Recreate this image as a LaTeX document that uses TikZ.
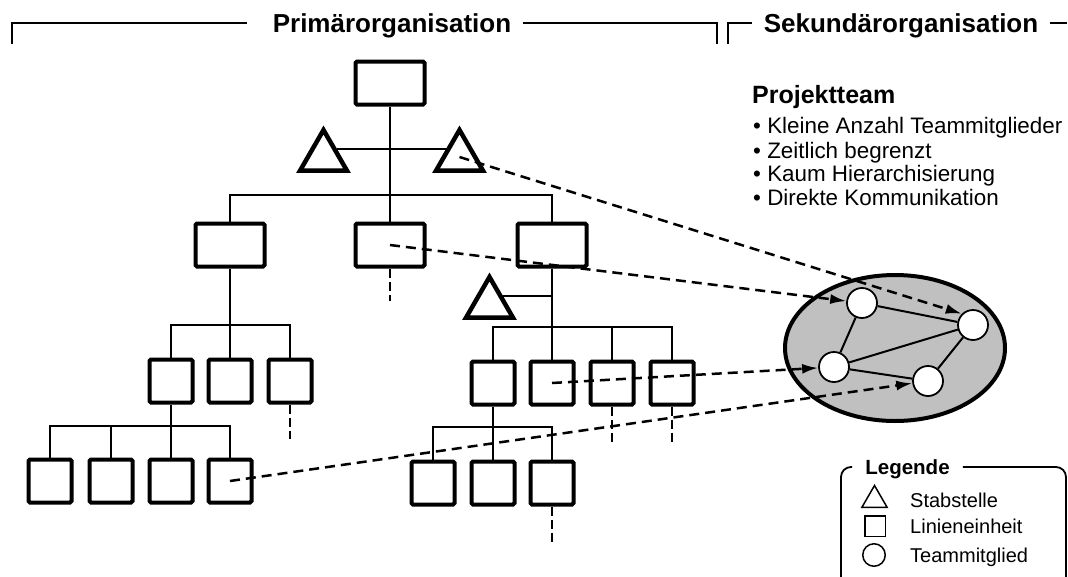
\documentclass[tikz,border=0pt]{standalone}
\usepackage{fontspec}
\setmainfont{Liberation Sans}
\usetikzlibrary{shapes.geometric,arrows.meta}
\definecolor{teamgray}{RGB}{192,192,192}

\begin{document}
\begin{tikzpicture}[x=1pt,y=-1pt,
        unit/.style={draw,line width=4pt,rounded corners=1.5pt,minimum width=69pt,minimum height=43pt,inner sep=0pt},
        subunit/.style={unit,minimum width=43pt,minimum height=43pt},
        staff/.style={draw,line width=4.5pt,regular polygon,regular polygon sides=3,minimum size=54pt,inner sep=0pt},
        member/.style={draw,circle,fill=white,line width=1.8pt,minimum size=30pt,inner sep=0pt},
        team/.style={draw,ellipse,fill=teamgray,line width=4pt,minimum width=220pt,minimum height=146pt,inner sep=0pt},
        link/.style={line width=2pt},
        stub/.style={line width=2.5pt,dash pattern=on 9pt off 4pt},
        assign/.style={line width=2.5pt,dash pattern=on 10pt off 6pt,-{Latex[length=16pt,width=10pt]}},
        rule/.style={line width=1.8pt},
        headline/.style={font=\bfseries\fontsize{26}{30}\selectfont,text height=18.6pt,text depth=0pt,inner ysep=0pt,inner xsep=12pt},
        item/.style={anchor=base west,inner sep=0pt,font=\fontsize{22.4}{26}\selectfont},
        legtext/.style={anchor=base west,inner sep=0pt,font=\fontsize{20}{24}\selectfont}]
    \useasboundingbox (0,0) rectangle (1068,576);

    % headings
    \node[headline] (prim) at (392,23) {Primärorganisation};
    \node[headline] (sek) at (901,23) {Sekundärorganisation};
    \draw[rule] ([xshift=-14pt]prim.west) -| (12,44);
    \draw[rule] (prim.east) -| (717,44);
    \draw[rule] (sek.west) -| (728,44);
    \draw[rule] (sek.east) -- ++(17,0);

    % line organisation
    \node[unit] (top) at (390,83) {};
    \node[staff] (tl) at (323.5,157) {};
    \node[staff] (tr) at (459.5,157) {};
    \node[unit] (l2) at (230,245) {};
    \node[unit] (m2) at (390,245) {};
    \node[unit] (r2) at (552,245) {};
    \node[staff] (tb) at (489.5,304) {};
    \node[subunit] (a1) at (171,381) {};
    \node[subunit] (a2) at (230,381) {};
    \node[subunit] (a3) at (290,381) {};
    \node[subunit] (b1) at (493,383) {};
    \node[subunit] (b2) at (552,383) {};
    \node[subunit] (b3) at (612,383) {};
    \node[subunit] (b4) at (672,383) {};
    \node[subunit] (c1) at (50,481) {};
    \node[subunit] (c2) at (111,481) {};
    \node[subunit] (c3) at (171,481) {};
    \node[subunit] (c4) at (230,481) {};
    \node[subunit] (d1) at (433,483) {};
    \node[subunit] (d2) at (493,483) {};
    \node[subunit] (d3) at (552,483) {};

    \coordinate (bus1) at (390,195);
    \coordinate (bus2) at (230,325);
    \coordinate (bus3) at (552,327);
    \coordinate (bus4) at (171,426);
    \coordinate (bus5) at (493,427);

    \draw[link] (tl.side 3) -- (tr.side 1);
    \draw[link] (top) -- (m2);
    \draw[link] (l2.north) |- (bus1) -| (r2.north);
    \draw[link] (r2) -- (b2);
    \draw[link] (tb.side 3) -- (tb.side 3 -| r2.south);
    \draw[link] (l2) -- (a2);
    \draw[link] (a1.north) |- (bus2) -| (a3.north);
    \draw[link] (b1.north) |- (bus3) -| (b4.north);
    \draw[link] (b3.north) -- (b3.north |- bus3);
    \draw[link] (a1) -- (c3);
    \draw[link] (c1.north) |- (bus4) -| (c4.north);
    \draw[link] (c2.north) -- (c2.north |- bus4);
    \draw[link] (b1) -- (d2);
    \draw[link] (d1.north) |- (bus5) -| (d3.north);

    \draw[stub] (m2.south) -- ++(0,32);
    \draw[stub] (a3.south) -- ++(0,34);
    \draw[stub] (b3.south) -- ++(0,35);
    \draw[stub] (b4.south) -- ++(0,35);
    \draw[stub] (d3.south) -- ++(0,37);

    % project team
    \node[team] (team) at (895,348) {};
    \node[member] (t1) at (862,303) {};
    \node[member] (t2) at (973,325) {};
    \node[member] (t3) at (834,367) {};
    \node[member] (t4) at (928,381) {};
    \draw[link] (t1) -- (t3);
    \draw[link] (t1) -- (t2);
    \draw[link] (t3) -- (t2);
    \draw[link] (t3) -- (t4);
    \draw[link] (t4) -- (t2);

    \draw[assign] (tr.center) -- (t2.north west);
    \draw[assign] (m2.center) -- (t1);
    \draw[assign] (b2.center) -- (t3);
    \draw[assign] (c4.center) -- (t4);

    \node[anchor=base west,inner sep=0pt,font=\bfseries\fontsize{25}{30}\selectfont] (proj) at (752,103) {Projektteam};
    \node[item] (p1) at (753,133) {• Kleine Anzahl Teammitglieder};
    \node[item] (p2) at (753,158) {• Zeitlich begrenzt};
    \node[item] (p3) at (753,181) {• Kaum Hierarchisierung};
    \node[item] (p4) at (753,205) {• Direkte Kommunikation};

    % legend
    \node[font=\bfseries\fontsize{20.5}{24}\selectfont,text height=14.7pt,text depth=0pt,inner ysep=0pt,inner xsep=13pt] (leg) at (907.5,467) {Legende};
    \draw[rule,rounded corners=10pt] (leg.east) -- (1066,467) -- (1066,600) -- (841,600) -- (841,467) -- (leg.west);
    \node[staff,line width=1.5pt,minimum size=29pt] (legtri) at (874.5,500) {};
    \node[subunit,line width=1.5pt,minimum width=20.5pt,minimum height=20.5pt,rounded corners=0pt] (legbox) at (875,526) {};
    \node[draw,circle,line width=1.5pt,minimum size=22.5pt,inner sep=0pt] (legcirc) at (874,555) {};
    \node[legtext] (ls) at (910,507) {Stabstelle};
    \node[legtext] (ll) at (910,533) {Linieneinheit};
    \node[legtext] (lt) at (910,562) {Teammitglied};
\end{tikzpicture}
\end{document}
